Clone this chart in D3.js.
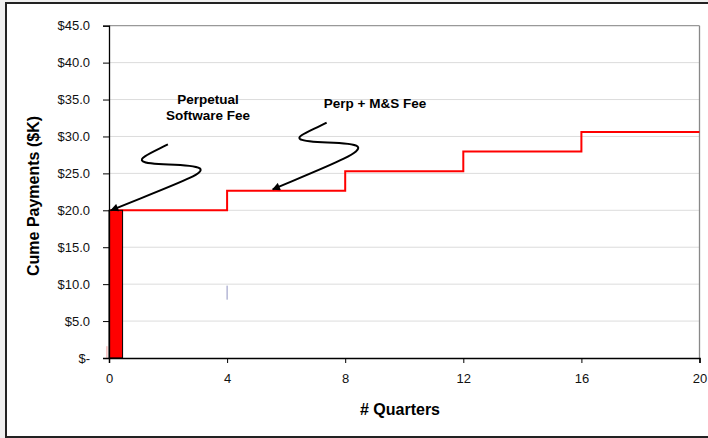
<!DOCTYPE html>
<html><head><meta charset="utf-8">
<script src="https://cdn.jsdelivr.net/npm/d3@7"></script>
<style>
html,body{margin:0;padding:0;background:#efefef;}
svg{display:block;font-family:"Liberation Sans",Arial,sans-serif;}
</style></head>
<body>
<svg id="chart" width="708" height="438"></svg>
<script>
// ---- data ----
const quarters = [0, 4, 8, 12, 16, 20];
const cumePayments = [20.0, 22.65, 25.3, 27.95, 30.6, 30.6];
const upfrontBar = {q0: 0, q1: 0.46, value: 20.0};
const yTicks = [0, 5, 10, 15, 20, 25, 30, 35, 40, 45];
const yTickLabels = ["$-", "$5.0", "$10.0", "$15.0", "$20.0", "$25.0", "$30.0", "$35.0", "$40.0", "$45.0"];
const xTicks = [0, 4, 8, 12, 16, 20];
// small stray marks seen in the original
const strayMarks = [
  {q: 4, y0: 7.9, y1: 9.8, color: "#8f93c0"},
  {q: -0.07, y0: 0, y1: 1.6, color: "#f2a0a0"}
];
// annotation arrows in data units (quarter, $K): start, then cubic segments
const arrow1 = [[1.995,28.92],[1.386,27.70],[0.980,27.03],[1.149,26.62],[1.386,25.95],[2.738,26.49],[3.076,25.68],[3.279,25.0],[2.40,23.78],[0.068,20.0]];
const arrow2 = [[7.371,31.89],[6.796,30.68],[6.289,30.0],[6.492,29.59],[6.796,28.92],[8.149,29.46],[8.419,28.65],[8.622,27.84],[7.473,26.08],[5.545,22.84]];

const svg = d3.select("#chart");
const L = 109, R = 699.5, T = 25.7, B = 358;
const x = d3.scaleLinear().domain([0, 20]).range([L, R]);
const y = d3.scaleLinear().domain([0, 45]).range([B, T]);

// outer frame
svg.append("rect").attr("x", 6).attr("y", 3).attr("width", 720).attr("height", 434)
  .attr("fill", "#fff").attr("stroke", "#222").attr("stroke-width", 2);

// gridlines
svg.append("g").selectAll("line").data(yTicks.filter(d => d > 0 && d < 45)).join("line")
  .attr("x1", L).attr("x2", R).attr("y1", d => y(d)).attr("y2", d => y(d))
  .attr("stroke", "#dcdcdc").attr("stroke-width", 1);
// plot frame top / right
svg.append("line").attr("x1", L).attr("x2", R).attr("y1", y(45)).attr("y2", y(45)).attr("stroke", "#999").attr("stroke-width", 1.3);
svg.append("line").attr("x1", R).attr("x2", R).attr("y1", y(45)).attr("y2", B).attr("stroke", "#888").attr("stroke-width", 1.3);

// stray marks
svg.append("g").selectAll("line").data(strayMarks).join("line")
  .attr("x1", d => x(d.q)).attr("x2", d => x(d.q)).attr("y1", d => y(d.y0)).attr("y2", d => y(d.y1))
  .attr("stroke", d => d.color).attr("stroke-width", 1);

// step line
const line = d3.line().x((d, i) => x(quarters[i])).y(d => y(d)).curve(d3.curveStepAfter);
svg.append("path").attr("d", line(cumePayments)).attr("fill", "none")
  .attr("stroke", "#ff0000").attr("stroke-width", 2);

// upfront bar
svg.append("rect").attr("x", x(upfrontBar.q0)).attr("y", y(upfrontBar.value))
  .attr("width", x(upfrontBar.q1) - x(upfrontBar.q0)).attr("height", y(0) - y(upfrontBar.value))
  .attr("fill", "#ff0000").attr("stroke", "#000").attr("stroke-width", 1);

// axes
const yAxis = d3.axisLeft(y).tickValues(yTicks).tickFormat((d, i) => yTickLabels[i]).tickSize(6).tickPadding(13);
const gy = svg.append("g").attr("transform", `translate(${L},0)`).call(yAxis);
gy.select(".domain").attr("stroke", "#000").attr("stroke-width", 1.3);
gy.selectAll(".tick line").attr("stroke", "#000");
gy.selectAll("text").attr("font-size", 13).attr("fill", "#111").attr("font-family", "Liberation Sans, Arial");

const xAxis = d3.axisBottom(x).tickValues(xTicks).tickFormat(d3.format("d")).tickSize(5).tickPadding(11);
const gx = svg.append("g").attr("transform", `translate(0,${B})`).call(xAxis);
gx.select(".domain").attr("stroke", "#000").attr("stroke-width", 1.5);
gx.selectAll(".tick line").attr("stroke", "#000");
gx.selectAll("text").attr("font-size", 13).attr("fill", "#111").attr("font-family", "Liberation Sans, Arial");

// axis titles
svg.append("text").attr("x", 400).attr("y", 415).attr("text-anchor", "middle")
  .attr("font-size", 16).attr("font-weight", "bold").text("# Quarters");
svg.append("text").attr("transform", "translate(39,196) rotate(-90)").attr("text-anchor", "middle")
  .attr("font-size", 16).attr("font-weight", "bold").text("Cume Payments ($K)");

// annotations
svg.append("text").attr("x", 208).attr("y", 103.5).attr("text-anchor", "middle")
  .attr("font-size", 13.5).attr("font-weight", "bold").text("Perpetual");
svg.append("text").attr("x", 208).attr("y", 119.5).attr("text-anchor", "middle")
  .attr("font-size", 13.5).attr("font-weight", "bold").text("Software Fee");
svg.append("text").attr("x", 375).attr("y", 107.5).attr("text-anchor", "middle")
  .attr("font-size", 13.5).attr("font-weight", "bold").text("Perp + M&S Fee");

// arrowhead marker
svg.append("defs").append("marker").attr("id", "ah").attr("viewBox", "0 0 10 10")
  .attr("refX", 9).attr("refY", 5).attr("markerWidth", 5).attr("markerHeight", 4)
  .attr("markerUnits", "strokeWidth").attr("orient", "auto")
  .append("path").attr("d", "M0,0 L10,5 L0,10 z").attr("fill", "#000");

function arrowPath(pts) {
  const p = d3.path();
  const P = pts.map(d => [x(d[0]), y(d[1])]);
  p.moveTo(P[0][0], P[0][1]);
  for (let i = 1; i + 2 < P.length; i += 3) {
    p.bezierCurveTo(P[i][0], P[i][1], P[i+1][0], P[i+1][1], P[i+2][0], P[i+2][1]);
  }
  return p.toString();
}
[arrow1, arrow2].forEach(a => {
  svg.append("path").attr("d", arrowPath(a)).attr("fill", "none")
    .attr("stroke", "#000").attr("stroke-width", 2).attr("marker-end", "url(#ah)");
});
</script>
</body></html>
